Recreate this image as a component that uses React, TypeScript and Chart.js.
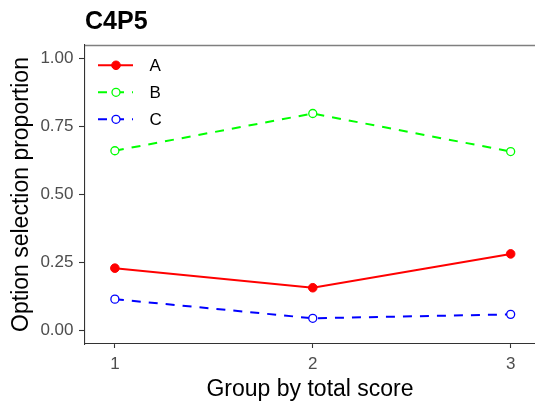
import React, { useEffect, useRef } from "react";
import { Chart, registerables } from "chart.js";

Chart.register(...registerables);

const groups = [1, 2, 3];
const seriesNames = ["A", "B", "C"];
const optionA = [0.229, 0.157, 0.2815];
const optionB = [0.661, 0.798, 0.658];
const optionC = [0.115, 0.0446, 0.059];
const yTicks = [0, 0.25, 0.5, 0.75, 1];
const xTicks = [1, 2, 3];
const chartTitle = "C4P5";
const xTitle = "Group by total score";
const yTitle = "Option selection proportion";

const FONT = "'Liberation Sans', Arial, sans-serif";

const decorPlugin = {
  id: "decor",
  afterDraw(chart: any) {
    const { ctx, chartArea } = chart;
    ctx.save();
    // top panel border
    ctx.strokeStyle = "#7f7f7f";
    ctx.lineWidth = 1.5;
    ctx.beginPath();
    ctx.moveTo(chartArea.left, chartArea.top + 0.5);
    ctx.lineTo(chartArea.right, chartArea.top + 0.5);
    ctx.stroke();

    // title
    ctx.fillStyle = "#000000";
    ctx.font = `bold 25px ${FONT}`;
    ctx.textAlign = "left";
    ctx.textBaseline = "alphabetic";
    ctx.fillText(chartTitle, chartArea.left, 28.5);

    // legend
    chart.data.datasets.forEach((ds: any, i: number) => {
      const y = chartArea.top + 20.3 + i * 27;
      const x0 = chartArea.left + 13;
      const x1 = chartArea.left + 48;
      const px = chartArea.left + 31;
      ctx.save();
      ctx.strokeStyle = ds.borderColor;
      ctx.lineWidth = ds.borderWidth;
      ctx.setLineDash(ds.borderDash || []);
      ctx.beginPath();
      ctx.moveTo(x0, y);
      ctx.lineTo(x1, y);
      ctx.stroke();
      ctx.setLineDash([]);
      ctx.beginPath();
      ctx.arc(px, y, ds.pointRadius, 0, Math.PI * 2);
      ctx.fillStyle = ds.pointBackgroundColor;
      ctx.fill();
      ctx.lineWidth = ds.pointBorderWidth;
      ctx.strokeStyle = ds.pointBorderColor;
      ctx.stroke();
      ctx.fillStyle = "#000000";
      ctx.font = `17px ${FONT}`;
      ctx.textAlign = "left";
      ctx.textBaseline = "middle";
      ctx.fillText(ds.label, chartArea.left + 64.5, y + 1.5);
      ctx.restore();
    });
    ctx.restore();
  },
};

export default function App() {
  const canvasRef = useRef<HTMLCanvasElement | null>(null);

  useEffect(() => {
    const canvas = canvasRef.current;
    if (!canvas) return;
    const toPts = (vals: number[]) => groups.map((g, i) => ({ x: g, y: vals[i] }));
    const chart = new Chart(canvas, {
      type: "line",
      data: {
        datasets: [
          {
            label: seriesNames[0],
            data: toPts(optionA),
            borderColor: "#FF0000",
            borderWidth: 2,
            pointRadius: 4.3,
            pointBackgroundColor: "#FF0000",
            pointBorderColor: "#FF0000",
            pointBorderWidth: 1,
            tension: 0,
          },
          {
            label: seriesNames[1],
            data: toPts(optionB),
            borderColor: "#00FF00",
            borderWidth: 2,
            borderDash: [9, 8],
            pointRadius: 4,
            pointBackgroundColor: "#FFFFFF",
            pointBorderColor: "#00FF00",
            pointBorderWidth: 1.3,
            tension: 0,
          },
          {
            label: seriesNames[2],
            data: toPts(optionC),
            borderColor: "#0000FF",
            borderWidth: 2,
            borderDash: [9, 8],
            pointRadius: 4,
            pointBackgroundColor: "#FFFFFF",
            pointBorderColor: "#0000FF",
            pointBorderWidth: 1.3,
            tension: 0,
          },
        ],
      } as any,
      options: {
        responsive: false,
        animation: false,
        layout: { autoPadding: false, padding: { top: 45, left: 0, right: 0, bottom: 0 } },
        plugins: {
          legend: { display: false },
          tooltip: { enabled: false },
          title: { display: false },
        },
        scales: {
          x: {
            type: "linear",
            min: 0.849,
            max: 3.123,
            afterBuildTicks: (s: any) => {
              s.ticks = xTicks.map((v) => ({ value: v }));
            },
            afterFit: (s: any) => {
              s.height = 65;
            },
            grid: {
              drawOnChartArea: false,
              drawTicks: true,
              tickLength: 4,
              tickColor: "#333333",
              tickWidth: 1.1,
            },
            border: { display: true, color: "#333333", width: 1.1 },
            ticks: {
              color: "#4D4D4D",
              font: { family: FONT, size: 17 },
              padding: 5.8,
              maxRotation: 0,
              autoSkip: false,
              callback: (v: any) => String(v),
            },
            title: {
              display: true,
              text: xTitle,
              color: "#000000",
              font: { family: FONT, size: 23 },
              padding: { top: 0, bottom: 5.2 },
            },
          },
          y: {
            type: "linear",
            min: -0.05,
            max: 1.05,
            afterBuildTicks: (s: any) => {
              s.ticks = yTicks.map((v) => ({ value: v }));
            },
            afterFit: (s: any) => {
              s.width = 85;
            },
            grid: {
              drawOnChartArea: false,
              drawTicks: true,
              tickLength: 6,
              tickColor: "#333333",
              tickWidth: 1.1,
            },
            border: { display: true, color: "#333333", width: 1.1 },
            ticks: {
              color: "#4D4D4D",
              font: { family: FONT, size: 17 },
              padding: 5.5,
              callback: (v: any) => Number(v).toFixed(2),
            },
            title: {
              display: true,
              text: yTitle,
              color: "#000000",
              font: { family: FONT, size: 23 },
              padding: { top: 8, bottom: 0 },
            },
          },
        },
      } as any,
      plugins: [decorPlugin],
    });
    return () => chart.destroy();
  }, []);

  return (
    <div style={{ position: "absolute", left: 0, top: 0, width: 535, height: 409, overflow: "hidden", background: "#fff" }}>
      <canvas ref={canvasRef} width={535} height={409} style={{ display: "block" }} />
    </div>
  );
}
